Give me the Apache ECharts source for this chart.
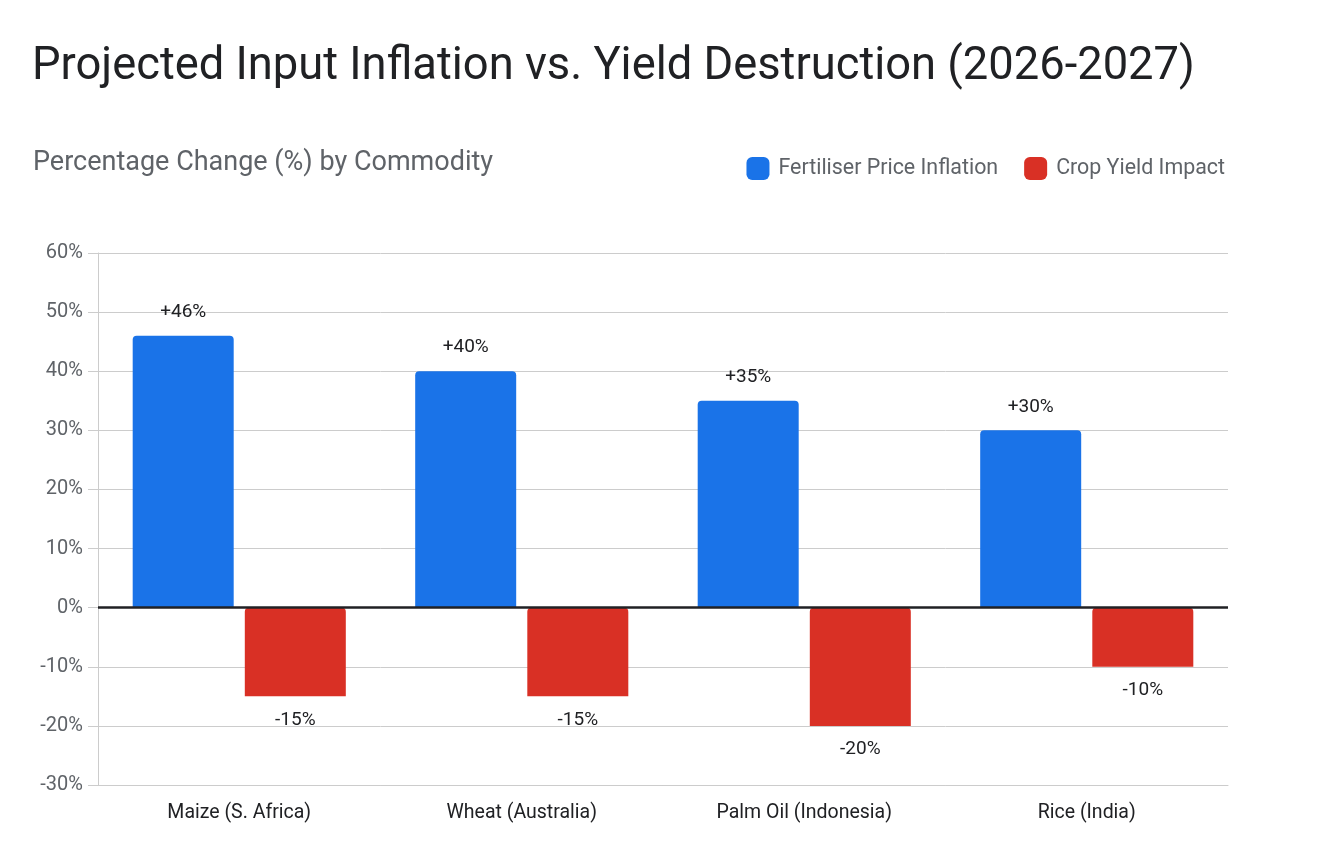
<!DOCTYPE html>
<html>
<head>
<meta charset="utf-8">
<title>Projected Input Inflation vs. Yield Destruction</title>
<script src="https://cdn.jsdelivr.net/npm/echarts@6/dist/echarts.min.js"></script>
<style>
  html, body { margin: 0; padding: 0; background: #fff; }
  #chart { width: 1318px; height: 865px; }
</style>
</head>
<body>
<div id="chart"></div>
<script>
// data
var categories = ["Maize (S. Africa)", "Wheat (Australia)", "Palm Oil (Indonesia)", "Rice (India)"];
var fertiliserInflation = [46, 40, 35, 30];
var cropYieldImpact = [-15, -15, -20, -10];
var seriesNames = ["Fertiliser Price Inflation", "Crop Yield Impact"];

var FONT = "Roboto, 'Open Sans', sans-serif";

var chart = echarts.init(document.getElementById("chart"));

var option = {
  backgroundColor: "#fff",
  textStyle: { fontFamily: FONT },
  title: [
    {
      text: "Projected Input Inflation vs. Yield Destruction (2026-2027)",
      left: 27,
      top: 40,
      textStyle: { fontSize: 45.3, fontWeight: "normal", color: "#202124", fontFamily: FONT }
    },
    {
      text: "Percentage Change (%) by Commodity",
      left: 28,
      top: 145,
      textStyle: { fontSize: 27, fontWeight: "normal", color: "#5f6368", fontFamily: FONT }
    }
  ],
  legend: {
    data: seriesNames,
    right: 88,
    top: 152,
    icon: "roundRect",
    itemWidth: 23,
    itemHeight: 23,
    itemGap: 26,
    textStyle: { fontSize: 21.4, color: "#5f6368", fontFamily: FONT, padding: [0, 0, 0, 4] }
  },
  grid: {
    left: 98,
    right: 90,
    top: 253,
    bottom: 80
  },
  xAxis: {
    type: "category",
    data: categories,
    axisLine: { onZero: false, lineStyle: { color: "#ccc" } },
    axisTick: { show: false },
    axisLabel: { fontSize: 19.5, color: "#202124", margin: 18, fontFamily: FONT }
  },
  yAxis: {
    type: "value",
    min: -30,
    max: 60,
    interval: 10,
    axisLine: { show: true, lineStyle: { color: "#ccc" } },
    axisTick: { show: true, length: 10, lineStyle: { color: "#ccc" } },
    axisLabel: { formatter: "{value}%", fontSize: 20, color: "#5f6368", margin: 15, fontFamily: FONT },
    splitLine: { lineStyle: { color: "#ccc", width: 1 } }
  },
  series: [
    {
      name: seriesNames[0],
      type: "bar",
      data: fertiliserInflation,
      barWidth: 101,
      barGap: "11%",
      itemStyle: { color: "#1a73e8", borderRadius: [4, 4, 0, 0] },
      label: {
        show: true,
        position: "top",
        distance: 14,
        fontSize: 19,
        color: "#202124",
        fontFamily: FONT,
        formatter: function (p) { return "+" + p.value + "%"; }
      },
      markLine: {
        silent: true,
        symbol: "none",
        label: { show: false },
        lineStyle: { color: "#202124", width: 2.5, type: "solid" },
        data: [{ yAxis: 0 }]
      }
    },
    {
      name: seriesNames[1],
      type: "bar",
      data: cropYieldImpact,
      barWidth: 101,
      itemStyle: { color: "#d93025", borderRadius: [4, 4, 0, 0] },
      label: {
        show: true,
        position: "bottom",
        distance: 14,
        fontSize: 19,
        color: "#202124",
        fontFamily: FONT,
        formatter: function (p) { return p.value + "%"; }
      }
    }
  ]
};

chart.setOption(option);
</script>
</body>
</html>
